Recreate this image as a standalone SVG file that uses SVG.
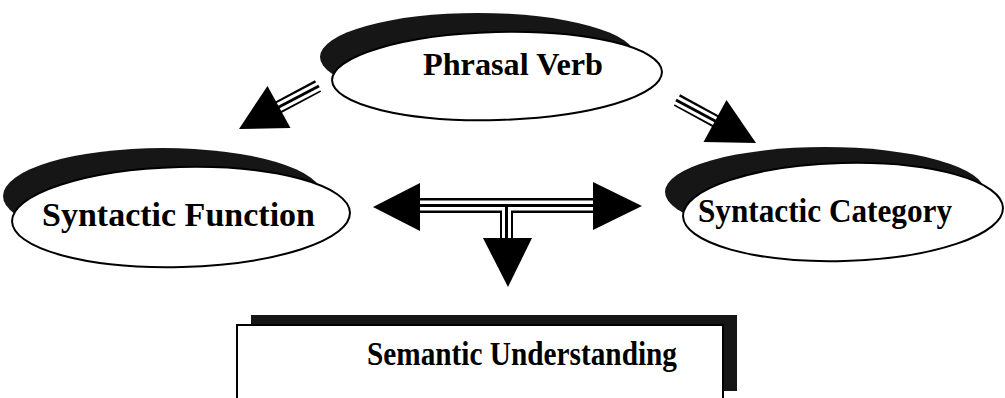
<svg xmlns="http://www.w3.org/2000/svg" width="1005" height="398" viewBox="0 0 1005 398">
<style>
.bg{fill:#ffffff}
.shadow{fill:#161616}
.node{fill:#ffffff;stroke:#000000;stroke-width:2}
.label{font-family:"Liberation Serif","Times New Roman",serif;font-weight:bold;fill:#000000}
.head{fill:#000000}
.s1{fill:none;stroke:#000000;stroke-linecap:butt}
.s2{fill:none;stroke:#ffffff;stroke-linecap:butt}
</style>
<rect class="bg" x="0" y="0" width="1005" height="398"/>

<g id="phrasal-verb">
  <ellipse class="shadow" cx="478" cy="57" rx="158" ry="44"/>
  <ellipse class="node" cx="497" cy="76" rx="165" ry="44" transform="rotate(-1.5 497 76)"/>
  <text class="label" x="423" y="75" font-size="31" textLength="180" lengthAdjust="spacingAndGlyphs">Phrasal Verb</text>
</g>

<g id="syntactic-function">
  <ellipse class="shadow" cx="163" cy="196" rx="160" ry="48"/>
  <ellipse class="node" cx="181" cy="217" rx="169" ry="50" transform="rotate(-1.5 181 217)"/>
  <text class="label" x="42" y="226" font-size="34" textLength="273" lengthAdjust="spacingAndGlyphs">Syntactic Function</text>
</g>

<g id="syntactic-category">
  <ellipse class="shadow" cx="825" cy="192" rx="160" ry="45"/>
  <ellipse class="node" cx="843" cy="212" rx="160" ry="49" transform="rotate(-1.5 843 212)"/>
  <text class="label" x="698" y="222" font-size="33" textLength="254" lengthAdjust="spacingAndGlyphs">Syntactic Category</text>
</g>

<g id="semantic-understanding">
  <rect class="shadow" x="251" y="315" width="486" height="76"/>
  <rect class="node" x="237" y="325" width="486" height="80"/>
  <text class="label" x="367" y="365" font-size="33" textLength="310" lengthAdjust="spacingAndGlyphs">Semantic Understanding</text>
</g>

<g id="connectors">
  <!-- Phrasal Verb -> Syntactic Function -->
  <g>
    <line class="s1" x1="318" y1="86" x2="277" y2="108" stroke-width="13"/>
    <line class="s2" x1="319" y1="86" x2="277" y2="108" stroke-width="9"/>
    <line class="s1" x1="319" y1="86" x2="277" y2="108" stroke-width="3"/>
    <polygon class="head" points="267.5,86 290.5,128 239,129"/>
  </g>
  <!-- Phrasal Verb -> Syntactic Category -->
  <g>
    <line class="s1" x1="677" y1="100" x2="717" y2="122" stroke-width="13"/>
    <line class="s2" x1="676" y1="100" x2="717" y2="122" stroke-width="9"/>
    <line class="s1" x1="676" y1="100" x2="717" y2="122" stroke-width="3"/>
    <polygon class="head" points="726.5,100 703.5,142 756,143"/>
  </g>
  <!-- Syntactic Function <-> Syntactic Category, down to Semantic Understanding -->
  <g>
    <line class="s1" x1="418" y1="205.5" x2="595" y2="205.5" stroke-width="15"/>
    <line class="s1" x1="506.5" y1="212" x2="506.5" y2="240" stroke-width="13"/>
    <line class="s2" x1="418" y1="205.5" x2="595" y2="205.5" stroke-width="10"/>
    <line class="s2" x1="506.5" y1="209" x2="506.5" y2="240" stroke-width="9"/>
    <line class="s1" x1="418" y1="205.5" x2="595" y2="205.5" stroke-width="3"/>
    <line class="s1" x1="506.5" y1="207" x2="506.5" y2="240" stroke-width="3"/>
    <polygon class="head" points="373,207 420,183 420,231"/>
    <polygon class="head" points="642,206 593,182 593,230"/>
    <polygon class="head" points="483,238 532,238 508,287"/>
  </g>
</g>
</svg>
